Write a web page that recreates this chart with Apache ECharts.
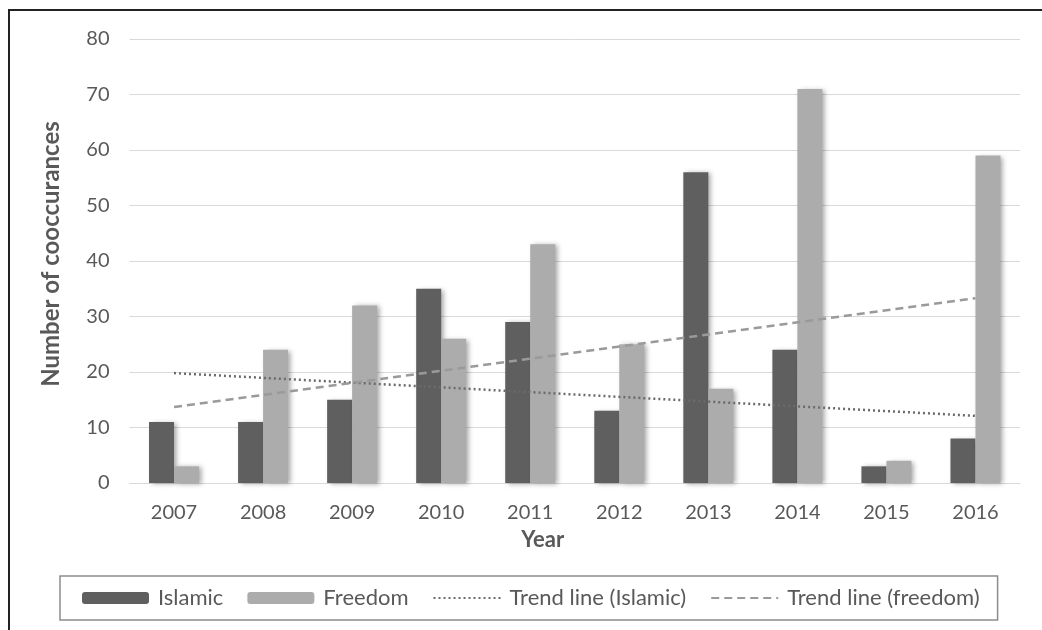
<!DOCTYPE html>
<html>
<head>
<meta charset="utf-8">
<script src="https://cdn.jsdelivr.net/npm/echarts@6/dist/echarts.min.js"></script>
<style>
html,body{margin:0;padding:0;background:#fff;}
#chart{width:1042px;height:630px;}
</style>
</head>
<body>
<div id="chart"></div>
<script>
var years = ['2007','2008','2009','2010','2011','2012','2013','2014','2015','2016'];
var islamic = [11, 11, 15, 35, 29, 13, 56, 24, 3, 8];
var freedom = [3, 24, 32, 26, 43, 25, 17, 71, 4, 59];
// trend line endpoints (first and last year)
var trendIslamic = [19.8, 12.1];
var trendFreedom = [13.7, 33.3];
var yTicks = [0, 10, 20, 30, 40, 50, 60, 70, 80];

var font = 'Lato, "Open Sans", sans-serif';
var textColor = '#595959';

function endpoints(arr) {
  var d = years.map(function () { return null; });
  d[0] = arr[0];
  d[years.length - 1] = arr[1];
  return d;
}

var chart = echarts.init(document.getElementById('chart'));
var barShadow = {shadowColor: 'rgba(0,0,0,0.35)', shadowBlur: 5, shadowOffsetX: 3, shadowOffsetY: 1};
chart.setOption({
  animation: false,
  textStyle: {fontFamily: font},
  graphic: [{
    type: 'rect', silent: true,
    shape: {x: 9, y: 10, width: 1060, height: 660},
    style: {fill: 'none', stroke: '#222', lineWidth: 2}
  }],
  grid: {left: 129.5, right: 22, top: 39, bottom: 147, containLabel: false},
  legend: {
    bottom: 10, left: 60,
    padding: [11, 18, 11, 22],
    borderColor: '#8c8c8c', borderWidth: 1.5,
    itemWidth: 67, itemHeight: 12, itemGap: 24,
    textStyle: {fontFamily: font, fontSize: 22, color: textColor, padding: [0, 0, 0, 4]},
    data: [
      {name: 'Islamic'},
      {name: 'Freedom'},
      {name: 'Trend line (Islamic)', itemStyle: {opacity: 0}},
      {name: 'Trend line (freedom)', itemStyle: {opacity: 0}}
    ]
  },
  xAxis: {
    type: 'category', data: years,
    name: 'Year', nameLocation: 'middle', nameGap: 46,
    nameTextStyle: {fontFamily: font, fontSize: 22, fontWeight: 'bold', color: textColor, padding: [0, 64, 0, 0]},
    axisLine: {lineStyle: {color: '#d9d9d9', width: 1}},
    axisTick: {show: false},
    axisLabel: {fontFamily: font, fontSize: 20, color: textColor, margin: 20}
  },
  yAxis: {
    type: 'value', min: yTicks[0], max: yTicks[yTicks.length - 1], interval: 10,
    name: 'Number of cooccurances', nameLocation: 'middle', nameGap: 66, nameRotate: 90,
    nameTextStyle: {fontFamily: font, fontSize: 24, fontWeight: 'bold', color: textColor, padding: [0, 0, 0, 14]},
    axisLine: {show: false}, axisTick: {show: false},
    axisLabel: {fontFamily: font, fontSize: 20, color: textColor, margin: 20},
    splitLine: {lineStyle: {color: '#d9d9d9', width: 1}}
  },
  series: [
    {name: 'Islamic', type: 'bar', data: islamic, barWidth: 25, barGap: '0%',
     itemStyle: Object.assign({color: '#5f5f5f'}, barShadow)},
    {name: 'Freedom', type: 'bar', data: freedom, barWidth: 25, barGap: '0%',
     itemStyle: Object.assign({color: '#acacac'}, barShadow)},
    {name: 'Trend line (Islamic)', type: 'line', data: endpoints(trendIslamic), connectNulls: true,
     symbol: 'none', z: 5,
     itemStyle: {color: '#6b6b6b'},
     lineStyle: {color: '#6b6b6b', width: 2.5, type: [2, 3]}},
    {name: 'Trend line (freedom)', type: 'line', data: endpoints(trendFreedom), connectNulls: true,
     symbol: 'none', z: 5,
     itemStyle: {color: '#9a9a9a'},
     lineStyle: {color: '#9a9a9a', width: 2.5, type: [8, 5]}}
  ]
});
</script>
</body>
</html>
